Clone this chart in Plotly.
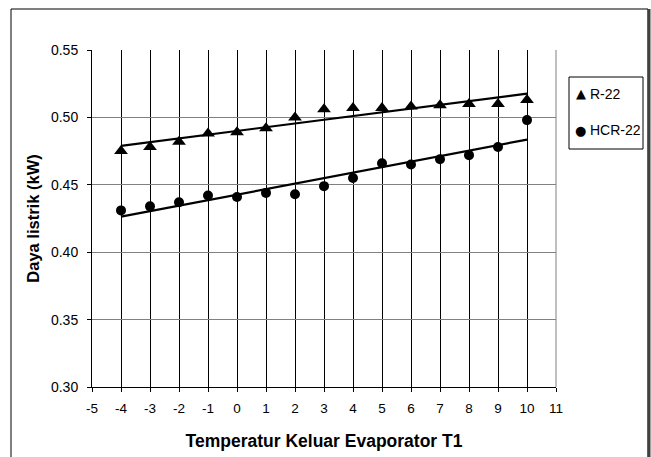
import numpy as np
import plotly.graph_objects as go

# Data
temps = [-4, -3, -2, -1, 0, 1, 2, 3, 4, 5, 6, 7, 8, 9, 10]
r22 = [0.475, 0.478, 0.482, 0.488, 0.489, 0.492, 0.500, 0.506, 0.507, 0.507,
       0.508, 0.509, 0.510, 0.510, 0.513]
hcr22 = [0.431, 0.434, 0.437, 0.442, 0.441, 0.444, 0.443, 0.449, 0.455, 0.466,
         0.465, 0.469, 0.472, 0.478, 0.498]
x_ticks = list(range(-5, 12))
y_ticks = [0.30, 0.35, 0.40, 0.45, 0.50, 0.55]
series_names = ["R-22", "HCR-22"]

FONT = "Liberation Sans, Arial, sans-serif"

# Linear trendlines (least-squares fit of each series)
x_arr = np.array(temps, dtype=float)
fit_r = np.polyfit(x_arr, np.array(r22), 1)
fit_h = np.polyfit(x_arr, np.array(hcr22), 1)
trend_x = [temps[0], temps[-1]]

fig = go.Figure()
fig.add_trace(go.Scatter(x=trend_x, y=list(np.polyval(fit_r, trend_x)), mode="lines",
                         line=dict(color="black", width=2.2), showlegend=False, hoverinfo="skip"))
fig.add_trace(go.Scatter(x=trend_x, y=list(np.polyval(fit_h, trend_x)), mode="lines",
                         line=dict(color="black", width=2.2), showlegend=False, hoverinfo="skip"))
fig.add_trace(go.Scatter(x=temps, y=r22, mode="markers", name=series_names[0],
                         marker=dict(symbol="triangle-up", size=12, color="black"),
                         showlegend=False))
fig.add_trace(go.Scatter(x=temps, y=hcr22, mode="markers", name=series_names[1],
                         marker=dict(symbol="circle", size=10, color="black"),
                         showlegend=False))

L, R, T, B = 92, 95, 50, 70
W, H = 651, 457
pw, ph = W - L - R, H - T - B

def px(xp):
    return (xp - L) / pw

def py(yp):
    return (H - B - yp) / ph

fig.update_layout(
    width=W, height=H,
    margin=dict(l=L, r=R, t=T, b=B, pad=0),
    paper_bgcolor="white", plot_bgcolor="white",
    font=dict(family=FONT, color="black", size=13),
    showlegend=False,
    xaxis=dict(
        range=[-5, 11], tickvals=x_ticks, ticktext=[str(v) for v in x_ticks],
        showgrid=True, gridcolor="black", gridwidth=1,
        showline=True, linecolor="black", linewidth=1, mirror=False,
        ticks="outside", ticklen=4, tickcolor="black",
        tickfont=dict(family=FONT, size=13.5), ticklabelstandoff=5,
        zeroline=False, automargin=False,
        title=dict(text="<b>Temperatur Keluar Evaporator T1</b>",
                   font=dict(family=FONT, size=17.5), standoff=19),
    ),
    yaxis=dict(
        range=[0.30, 0.55], tickvals=y_ticks, ticktext=[f"{v:.2f}" for v in y_ticks],
        showgrid=True, gridcolor="#808080", gridwidth=1,
        showline=True, linecolor="black", linewidth=1,
        ticks="outside", ticklen=4, tickcolor="black",
        tickfont=dict(family=FONT, size=14), ticklabelstandoff=6,
        zeroline=False, automargin=False,
        title=dict(text="<b>Daya listrik (kW)</b>",
                   font=dict(family=FONT, size=16.5), standoff=7),
    ),
)

shapes = [
    # right plot-area edge (gray)
    dict(type="line", xref="paper", yref="paper", x0=1, x1=1, y0=0, y1=1,
         line=dict(color="#808080", width=1)),
    # outer chart border
    dict(type="rect", xref="paper", yref="paper", x0=px(11), x1=px(648), y0=py(470), y1=py(9),
         line=dict(color="black", width=1), layer="below"),
    dict(type="line", xref="paper", yref="paper", x0=px(649), x1=px(649), y0=py(470), y1=py(9),
         line=dict(color="#404040", width=3)),
    # legend box
    dict(type="rect", xref="paper", yref="paper", x0=px(569), x1=px(643), y0=py(149), y1=py(77),
         line=dict(color="black", width=1), fillcolor="white"),
]
fig.update_layout(shapes=shapes)

annotations = [
    dict(xref="paper", yref="paper", x=px(581), y=py(94), xanchor="center", yanchor="middle",
         text="▲", showarrow=False, font=dict(family="DejaVu Sans", size=13, color="black")),
    dict(xref="paper", yref="paper", x=px(588), y=py(94), xanchor="left", yanchor="middle",
         text=series_names[0], showarrow=False, font=dict(family=FONT, size=14)),
    dict(xref="paper", yref="paper", x=px(580.5), y=py(130), xanchor="center", yanchor="middle",
         text="●", showarrow=False, font=dict(family="DejaVu Sans", size=13, color="black")),
    dict(xref="paper", yref="paper", x=px(588), y=py(130), xanchor="left", yanchor="middle",
         text=series_names[1], showarrow=False, font=dict(family=FONT, size=14)),
]
fig.update_layout(annotations=annotations)

fig.write_html("out.html")
